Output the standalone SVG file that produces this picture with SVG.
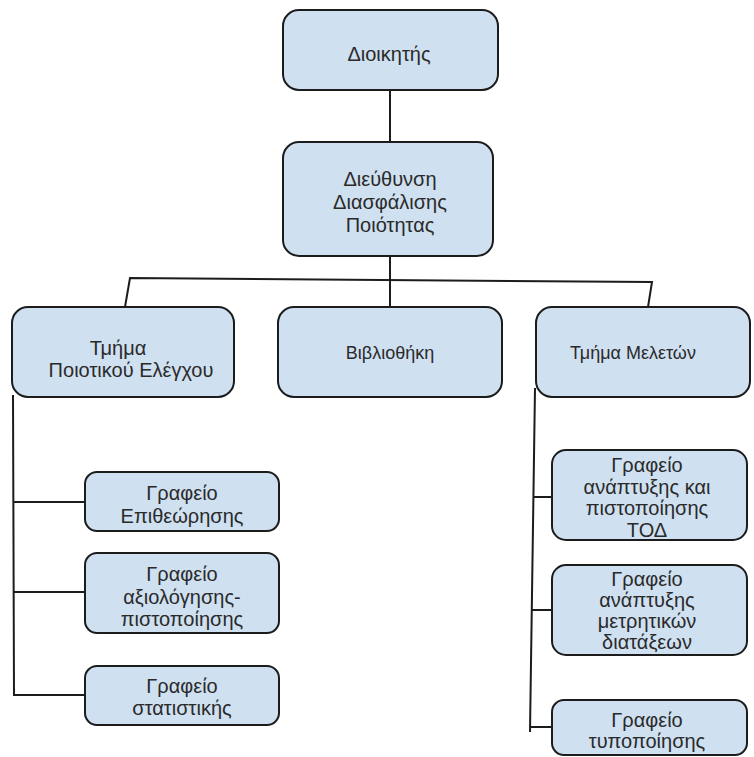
<svg xmlns="http://www.w3.org/2000/svg" width="754" height="757" viewBox="0 0 754 757">
<style>
.box{fill:#cfe0f1;stroke:#1c1c1c;stroke-width:2}
.t{font-family:"Liberation Sans",Arial,sans-serif;font-size:18px;fill:#2a2a2a;text-anchor:middle}
.b{font-size:20px}
.c{fill:none;stroke:#1c1c1c;stroke-width:2}
</style>
<rect width="754" height="757" fill="#ffffff"/>
<g id="connectors">
<line class="c" x1="390" y1="90" x2="390" y2="142"/>
<line class="c" x1="390" y1="256" x2="390" y2="307"/>
<polyline class="c" points="125,307 130,278 652,282 648,307"/>
<polyline class="c" points="13,395 14,695 85,695"/>
<line class="c" x1="13" y1="502" x2="85" y2="502"/>
<line class="c" x1="14" y1="592" x2="85" y2="592"/>
<line class="c" x1="535" y1="388" x2="530" y2="732"/>
<line class="c" x1="533" y1="497" x2="552" y2="497"/>
<line class="c" x1="532" y1="610" x2="552" y2="610"/>
<line class="c" x1="530" y1="727" x2="552" y2="727"/>
</g>
<g id="n1">
<rect class="box" x="283" y="10" width="215" height="80" rx="16"/>
<text class="t b" x="389" y="61">Διοικητής</text>
</g>
<g id="n2">
<rect class="box" x="283" y="142" width="210" height="114" rx="16"/>
<text class="t b" x="390" y="186">Διεύθυνση</text>
<text class="t b" x="390" y="209">Διασφάλισης</text>
<text class="t b" x="390" y="232">Ποιότητας</text>
</g>
<g id="n3">
<rect class="box" x="12" y="307" width="222" height="90" rx="16"/>
<text class="t b" x="118" y="355">Τμήμα</text>
<text class="t b" x="131" y="377">Ποιοτικού Ελέγχου</text>
</g>
<g id="n4">
<rect class="box" x="278" y="307" width="224" height="90" rx="16"/>
<text class="t" x="390" y="359">Βιβλιοθήκη</text>
</g>
<g id="n5">
<rect class="box" x="536" y="307" width="214" height="90" rx="16"/>
<text class="t" x="633" y="359">Τμήμα Μελετών</text>
</g>
<g id="n6">
<rect class="box" x="85" y="472" width="194" height="59" rx="12"/>
<text class="t b" x="182" y="500">Γραφείο</text>
<text class="t b" x="182" y="523">Επιθεώρησης</text>
</g>
<g id="n7">
<rect class="box" x="85" y="553" width="194" height="80" rx="12"/>
<text class="t b" x="182" y="581">Γραφείο</text>
<text class="t b" x="182" y="604">αξιολόγησης-</text>
<text class="t b" x="182" y="626">πιστοποίησης</text>
</g>
<g id="n8">
<rect class="box" x="85" y="666" width="194" height="59" rx="12"/>
<text class="t b" x="182" y="693">Γραφείο</text>
<text class="t b" x="182" y="715">στατιστικής</text>
</g>
<g id="n9">
<rect class="box" x="552" y="450" width="195" height="90" rx="14"/>
<text class="t b" x="647" y="472">Γραφείο</text>
<text class="t b" x="647" y="494">ανάπτυξης και</text>
<text class="t b" x="647" y="515">πιστοποίησης</text>
<text class="t b" x="647" y="537">ΤΟΔ</text>
</g>
<g id="n10">
<rect class="box" x="552" y="565" width="195" height="90" rx="14"/>
<text class="t b" x="647" y="586">Γραφείο</text>
<text class="t b" x="647" y="607">ανάπτυξης</text>
<text class="t b" x="647" y="628">μετρητικών</text>
<text class="t b" x="647" y="649">διατάξεων</text>
</g>
<g id="n11">
<rect class="box" x="552" y="700" width="195" height="55" rx="12"/>
<text class="t b" x="647" y="727">Γραφείο</text>
<text class="t b" x="647" y="748">τυποποίησης</text>
</g>
</svg>
